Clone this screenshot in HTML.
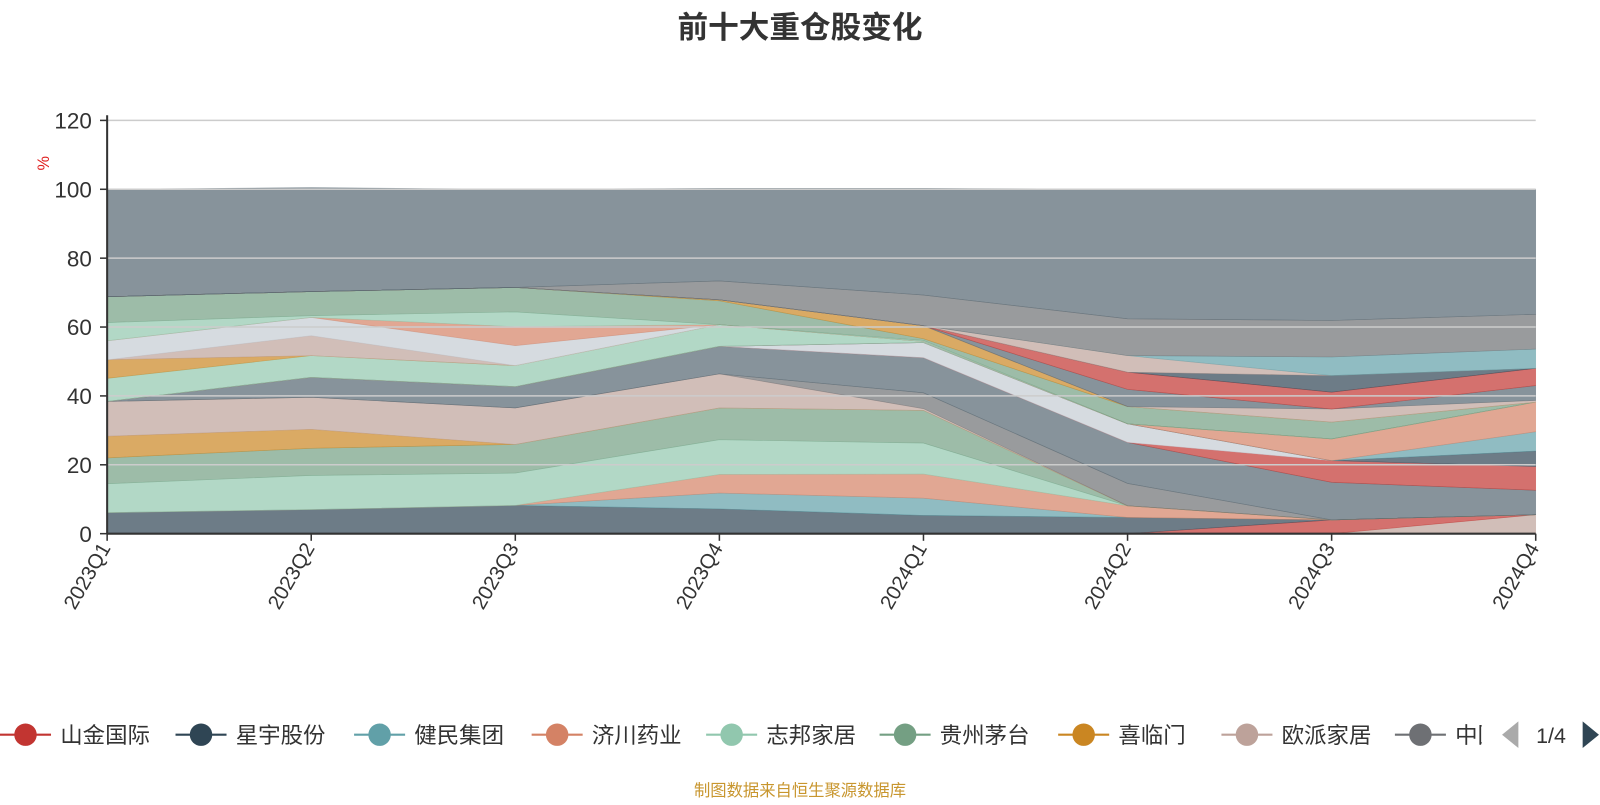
<!DOCTYPE html>
<html><head><meta charset="utf-8"><style>
body{margin:0;background:#fff;width:1600px;height:800px;overflow:hidden;font-family:"Liberation Sans","Noto Sans CJK SC",sans-serif}
</style></head><body>
<svg id="c" width="1600" height="800" xmlns="http://www.w3.org/2000/svg">
<g transform="scale(1.020408)">
<text x="784" y="37" text-anchor="middle" font-size="30" font-weight="bold" fill="#333" font-family="Liberation Sans, Noto Sans CJK SC, sans-serif">前十大重仓股变化</text>
<g id="grid"></g><g id="areas"></g><g id="axes"></g><g id="legend"></g>
<text x="784" y="780" text-anchor="middle" font-size="16" fill="#c8962e" font-family="Liberation Sans, Noto Sans CJK SC, sans-serif">制图数据来自恒生聚源数据库</text>
</g>
</svg>
<script>
const categories=["2023Q1","2023Q2","2023Q3","2023Q4","2024Q1","2024Q2","2024Q3","2024Q4"];
const yTicks=[0,20,40,60,80,100,120];
const legendNames=["山金国际","星宇股份","健民集团","济川药业","志邦家居","贵州茅台","喜临门","欧派家居","中国"];
const s0=[0,0,0,0,0,0,0,5.5];
const s1=[0,0,0,0,0,0,4,0];
const s2=[6.1,7,8.2,7.2,5.3,4.7,0,0];
const s3=[0,0,0,4.6,5,0,0,0];
const s4=[0,0,0,5.4,7,3.4,0,0];
const s5=[8.4,9.9,9.4,10.1,9,0,0,0];
const s6=[7.5,7.9,8.3,9.2,9.5,0,0,0];
const s7=[6.3,5.5,0,0,0,0,0,0];
const s8=[10.1,9.3,10.6,9.9,0.5,0,0,0];
const s9=[0,0,0,0,4.6,6.5,0,0];
const s10=[0,5.8,6.2,8,10.2,11.9,10.9,7.1];
const s11=[0,0,0,0,0,0,6.3,6.9];
const s12=[0,0,0,0,4.4,5.4,0,0];
const s13=[0,0,0,0,0,0,0,4.5];
const s14=[0,0,0,0,0,0,0,5.6];
const s15=[0,0,0,0,0,0,6.3,8.6];
const s16=[6.7,6.3,6.1,6.3,0.3,0,0,0];
const s17=[5.4,0,0,0,0,0,0,0];
const s18=[0,5.8,0,0,0,0,0,0];
const s19=[5.5,5.3,5.8,0,0,0,0,0];
const s20=[0,0,5.5,0,0,0,0,0];
const s21=[5.3,0.5,4.3,0,0.3,0,0,0];
const s22=[7.5,7,7.1,6.9,0.5,5,4.9,0];
const s23=[0,0,0,0.3,3.8,0,0,0];
const s24=[0,0,0,0,0,0,3.8,0.5];
const s25=[0,0,0,0,0,5,0,4.3];
const s26=[0,0,0,0,0,5,4.9,5];
const s27=[0,0,0,0,0,0,4.8,0];
const s28=[0,0,0,0,0,4.8,0,0];
const s29=[0,0,0,0,0,0,5.4,5.6];
const s30=[0,0,0,5.5,8.9,10.7,10.6,10.1];
const s31=[31.2,30.2,28.5,26.9,31,37.6,38.1,36.3];
const seriesList=[s0,s1,s2,s3,s4,s5,s6,s7,s8,s9,s10,s11,s12,s13,s14,s15,s16,s17,s18,s19,s20,s21,s22,s23,s24,s25,s26,s27,s28,s29,s30,s31];
const seriesColors=["#bda29a","#c23531","#2f4554","#61a0a8","#d48265","#91c7ae","#749f83","#ca8622","#bda29a","#6e7074","#546570","#c23531","#c4ccd3","#2f4554","#61a0a8","#d48265","#91c7ae","#ca8622","#bda29a","#c4ccd3","#d48265","#91c7ae","#749f83","#ca8622","#bda29a","#546570","#c23531","#2f4554","#bda29a","#61a0a8","#6e7074","#546570"];
const NS="http://www.w3.org/2000/svg";
const X0=105,X1=1505,Y0=523,Y1=118;
function xs(i){return X0+i*(X1-X0)/(categories.length-1);}
function ys(v){return Y0-(v/120)*(Y0-Y1);}
function mk(t,a,p){const e=document.createElementNS(NS,t);for(const k in a)e.setAttribute(k,a[k]);p.appendChild(e);return e;}
const grid=document.getElementById('grid'),areas=document.getElementById('areas'),axes=document.getElementById('axes'),leg=document.getElementById('legend');
yTicks.forEach(v=>{
  if(v>0){const g=mk('line',{x1:X0,x2:X1,y1:ys(v),y2:ys(v),stroke:'#ccc','stroke-width':1.5},axes);
  
  }
  const t=mk('text',{x:90,y:ys(v)+8,'text-anchor':'end','font-size':22,fill:'#333'},axes);t.textContent=v;
  
  
  mk('line',{x1:X0-7,x2:X0,y1:ys(v),y2:ys(v),stroke:'#333','stroke-width':1.5},axes);
});
let cum=categories.map(()=>0);
seriesList.forEach((s,k)=>{
  const lo=cum.slice(),hi=cum.map((c,i)=>c+s[i]);
  let d='M'+categories.map((c,i)=>xs(i)+','+ys(hi[i])).join('L');
  for(let i=categories.length-1;i>=0;i--)d+='L'+xs(i)+','+ys(lo[i]);
  const p=mk('path',{d:d+'Z',fill:seriesColors[k],'fill-opacity':0.7,stroke:seriesColors[k],'stroke-opacity':0.5,'stroke-width':0.6},areas);
  
  
  cum=hi;
});
mk('line',{x1:X0,x2:X0,y1:Y1-5,y2:Y0,stroke:'#333','stroke-width':2},axes);
mk('line',{x1:X0,x2:X1,y1:Y0,y2:Y0,stroke:'#333','stroke-width':2},axes);
const pc=mk('text',{x:48,y:160,'text-anchor':'middle','font-size':16,fill:'#e02020',transform:'rotate(-90 48 160)'},axes);pc.textContent='%';


categories.forEach((c,i)=>{
  mk('line',{x1:xs(i),x2:xs(i),y1:Y0,y2:Y0+7,stroke:'#333','stroke-width':1.5},axes);
  const t=mk('text',{x:xs(i)+4,y:Y0+14,'text-anchor':'end','font-size':20,fill:'#333',transform:'rotate(-60 '+(xs(i)+4)+' '+(Y0+14)+')'},axes);t.textContent=c;
  
  
});
const legColors=["#c23531","#2f4554","#61a0a8","#d48265","#91c7ae","#749f83","#ca8622","#bda29a","#6e7074"];
const legX=[0,172,347,521,692,862,1037,1197,1367];
legendNames.forEach((n,i)=>{
  const g=mk('g',{},leg);
  
  
  const x=legX[i];
  mk('line',{x1:x,x2:x+50,y1:720,y2:720,stroke:legColors[i],'stroke-width':2},g);
  mk('circle',{cx:x+25,cy:720,r:11,fill:legColors[i]},g);
  const t=mk('text',{x:x+59,y:728,'font-size':22,fill:'#333'},g);t.textContent=n;
});
mk('rect',{x:1452,y:700,width:18,height:40,fill:'#fff'},leg);
const pl=mk('path',{d:'M1488,707L1472,720L1488,733Z',fill:'#aaa'},leg);


const pt=mk('text',{x:1520,y:728,'text-anchor':'middle','font-size':21,fill:'#333'},leg);pt.textContent='1/4';


const pn=mk('path',{d:'M1551,707L1567,720L1551,733Z',fill:'#2f4554'},leg);


</script>
</body></html>
